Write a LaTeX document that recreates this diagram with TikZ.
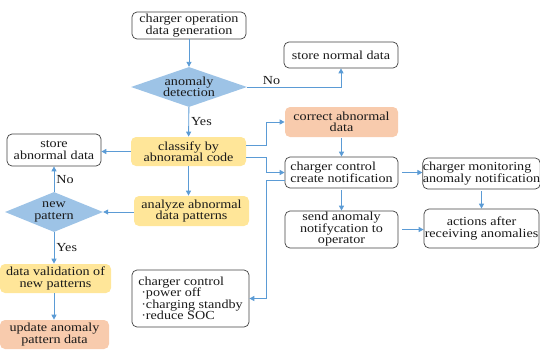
\documentclass[tikz,border=0pt]{standalone}
\usepackage{fontspec}
\setmainfont{Liberation Serif}[FakeStretch=1.15]
\usetikzlibrary{shapes.geometric,arrows.meta}
\definecolor{arrc}{HTML}{5B9BD5}
\definecolor{diac}{HTML}{9DC3E6}
\definecolor{yelc}{HTML}{FFE699}
\definecolor{orac}{HTML}{F8CBAD}
\definecolor{bordc}{HTML}{404040}
\definecolor{txtc}{HTML}{1A1A1A}
\begin{document}
\begin{tikzpicture}[x=1pt,y=-1pt,
  every node/.style={text=txtc,font=\fontsize{12.3}{11.5}\selectfont},
  box/.style={draw=bordc,line width=0.7pt,rounded corners=5pt,align=center,inner sep=0pt},
  ybox/.style={box,draw=none,fill=yelc},
  obox/.style={box,draw=none,fill=orac},
  dbox/.style={diamond,fill=diac,align=center,inner sep=0pt,aspect=2.8},
  arr/.style={draw=arrc,line width=0.9pt,-{Triangle[length=5pt,width=5pt]}},
  lbl/.style={inner sep=2pt}
]
\useasboundingbox (0,0) rectangle (540,349);
% nodes
\node[box,minimum width=114,minimum height=27] (gen) at (189,25.5) {charger operation\\data generation};
\node[dbox,minimum width=116,minimum height=40] (det) at (189,87) {anomaly\\detection};
\node[box,minimum width=114,minimum height=26] (norm) at (341,55) {store normal data};
\node[ybox,minimum width=115,minimum height=29] (cls) at (188.5,151.5) {classify by\\abnoramal code};
\node[box,minimum width=94,minimum height=32] (sab) at (54,150) {store\\abnormal data};
\node[obox,minimum width=113,minimum height=30] (cor) at (341.5,122) {correct abnormal\\data};
\node[box,minimum width=113,minimum height=31,align=left] (ccn) at (341.5,172.5) {charger control\\create notification};
\node[box,minimum width=115,minimum height=31,align=left] (mon) at (481.5,173.5) {charger monitoring\\anomaly notification};
\node[box,minimum width=113,minimum height=37] (send) at (341.5,229.5) {send anomaly\\notifycation to\\operator};
\node[box,minimum width=115,minimum height=39] (act) at (481.5,228.5) {actions after\\receiving anomalies};
\node[ybox,minimum width=115,minimum height=30] (ana) at (191.5,211) {analyze abnormal\\data patterns};
\node[dbox,minimum width=98,minimum height=40] (newp) at (54,212) {new\\pattern};
\node[ybox,minimum width=111,minimum height=29] (val) at (55.5,278.5) {data validation of\\new patterns};
\node[obox,minimum width=109,minimum height=29] (upd) at (54.5,334.5) {update anomaly\\pattern data};
\node[box,minimum width=117,minimum height=57,align=left] (ctl) at (190.5,298.5) {charger control\\\hspace*{3pt}·power off\\\hspace*{3pt}·charging standby\\\hspace*{3pt}·reduce SOC};
% connectors
\draw[arr] (gen) -- (det);
\draw[arr] (det.east) -| node[pos=0.13,above,lbl] {No} (norm.south);
\draw[arr] (det) -- node[right,lbl] {Yes} (cls);
\draw[arr] (cls.west) -- (cls.west -| sab.east);
\draw[arr] ([shift={(0,-6.5)}]cls.east) -- ++(20,0) |- (cor.west);
\draw[arr] ([shift={(0,5.5)}]cls.east) -- ++(20,0) |- (ccn.west);
\draw[arr] ([shift={(0,8)}]ccn.west) -- ++(-18,0) |- (ctl.east);
\draw[arr,shorten <=1pt] (cor) -- (ccn);
\draw[arr,shorten <=4pt] (ccn.east) -- (ccn.east -| mon.west);
\draw[arr,shorten <=2pt] (ccn) -- (send);
\draw[arr,shorten <=2pt] (mon) -- (act);
\draw[arr,shorten <=4pt] (send.east) -- (send.east -| act.west);
\draw[arr] (cls.south) -- (cls.south |- ana.north);
\draw[arr] (ana.west |- newp) -- (newp.east);
\draw[arr] (newp) -- node[right,lbl] {No} (sab);
\draw[arr] (newp.south) -- node[right,lbl] {Yes} (newp.south |- val.north);
\draw[arr] (newp.south |- val.south) -- (newp.south |- upd.north);
\end{tikzpicture}
\end{document}
